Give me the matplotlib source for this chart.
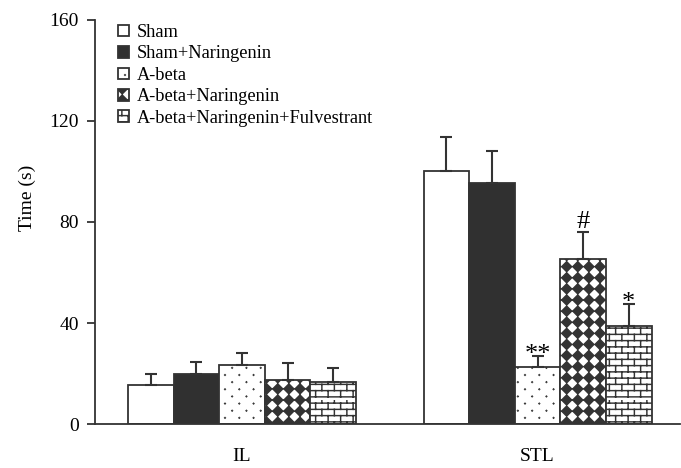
import warnings
import numpy as np
import matplotlib
matplotlib.use("Agg")
import matplotlib.pyplot as plt
from matplotlib import hatch as mhatch
from matplotlib.path import Path

warnings.filterwarnings("ignore")

groups = ["IL", "STL"]
labels = ["Sham", "Sham+Naringenin", "A-beta", "A-beta+Naringenin",
          "A-beta+Naringenin+Fulvestrant"]
il_mean = [15.5, 20, 23.5, 17.5, 16.5]
il_err = [4.5, 4.5, 4.5, 6.5, 5.5]
stl_mean = [100, 95.5, 22.5, 65.5, 39]
stl_err = [13.5, 12.5, 4.5, 10.5, 8.5]
stl_marks = ["", "", "**", "#", "*"]

faces = ["white", "#303030", "white", "white", "white"]
hatches = [None, None, "p", "k", "b"]

MOVE, LINE, CLOSE = Path.MOVETO, Path.LINETO, Path.CLOSEPOLY


def diamond(cx, cy, r):
    v = [(cx, cy - r), (cx + r, cy), (cx, cy + r), (cx - r, cy), (cx, cy - r)]
    return v, [MOVE, LINE, LINE, LINE, CLOSE]


class TileHatch(mhatch.HatchPatternBase):
    key = ""

    def __init__(self, hatch, density):
        if self.key in hatch:
            verts, codes = self.build()
        else:
            verts, codes = [], []
        self.verts = np.asarray(verts, float).reshape(-1, 2)
        self.codes = np.asarray(codes, dtype=Path.code_type)
        self.num_vertices = len(self.verts)

    def set_vertices_and_codes(self, vertices, codes):
        vertices[:] = self.verts
        codes[:] = self.codes


class SparseDots(TileHatch):
    key = "p"

    def build(self):
        rows, cols = 14, 7
        verts, codes = [], []
        for r in range(rows):
            shift = 0.5 if r % 2 else 0.0
            for k in range(cols):
                v, c = diamond((k + shift + 0.25) / cols, (r + 0.5) / rows, 0.003)
                verts += v
                codes += c
        return verts, codes


class Checker(TileHatch):
    key = "k"

    def build(self):
        n = 9
        verts, codes = [], []
        for i in range(n + 1):
            for j in range(n + 1):
                v, c = diamond(i / n, j / n, 0.45 / n)
                verts += v
                codes += c
        return verts, codes


class Bricks(TileHatch):
    key = "b"

    def build(self):
        rows, cols = 16, 8
        verts, codes = [], []
        for r in range(rows):
            y0 = (r + 0.5) / rows
            y1 = (r + 1.5) / rows
            verts += [(0, y0), (1, y0)]
            codes += [MOVE, LINE]
            shift = 0.5 if r % 2 else 0.0
            for k in range(cols):
                x = (k + shift + 0.25) / cols
                verts += [(x, y0), (x, y1)]
                codes += [MOVE, LINE]
        return verts, codes


mhatch._hatch_types.extend([SparseDots, Checker, Bricks])

plt.rcParams["font.family"] = ["Liberation Serif", "DejaVu Serif"]
plt.rcParams["hatch.linewidth"] = 1.05
plt.rcParams["hatch.color"] = "black"

fig = plt.figure(figsize=(6.81, 4.68), dpi=100)
ax = fig.add_axes([0.1395, 0.094, 0.859, 0.8633])

x = np.arange(len(groups))
width = 0.1543
edge = "#333333"
# vertical nudge (points) of each significance sign above its error cap
mark_offset = {"*": -3.5, "**": -3.5, "#": 3}

for i, lab in enumerate(labels):
    pos = x + (i - 2) * width
    means = [il_mean[i], stl_mean[i]]
    errs = [il_err[i], stl_err[i]]
    ax.bar(pos, means, width, color=faces[i], edgecolor=edge, linewidth=1.3,
           hatch=hatches[i], label=lab, zorder=2)
    ax.errorbar(pos, means, yerr=[[0, 0], errs], fmt="none", ecolor=edge,
                elinewidth=1.5, capsize=4.5, capthick=1.5, zorder=3)
    m = stl_marks[i]
    if m:
        ax.annotate(m, (pos[1], stl_mean[i] + stl_err[i]),
                    xytext=(0, mark_offset[m]), textcoords="offset points",
                    ha="center", va="baseline", fontsize=19)

ax.set_xlim(-0.4975, 1.482)
ax.set_ylim(0, 160)
ax.set_yticks([0, 40, 80, 120, 160])
ax.set_xticks(x)
ax.set_xticklabels(groups)
ax.set_ylabel("Time (s)", fontsize=14)
ax.yaxis.set_label_coords(-0.101, 0.56)

for s in ["top", "right"]:
    ax.spines[s].set_visible(False)
for s in ["left", "bottom"]:
    ax.spines[s].set_linewidth(1.3)
    ax.spines[s].set_color(edge)
ax.tick_params(axis="y", direction="out", length=5.8, width=1.3, color=edge,
               pad=5.8, labelsize=14)
ax.tick_params(axis="x", length=0, pad=17, labelsize=14)

ax.legend(loc="upper left", bbox_to_anchor=(0.04, 0.99), frameon=False,
          fontsize=13.2, handlelength=0.6, handleheight=0.6,
          handletextpad=0.38, labelspacing=0.24, borderpad=0, borderaxespad=0)

fig.savefig("out.png", dpi=100)
